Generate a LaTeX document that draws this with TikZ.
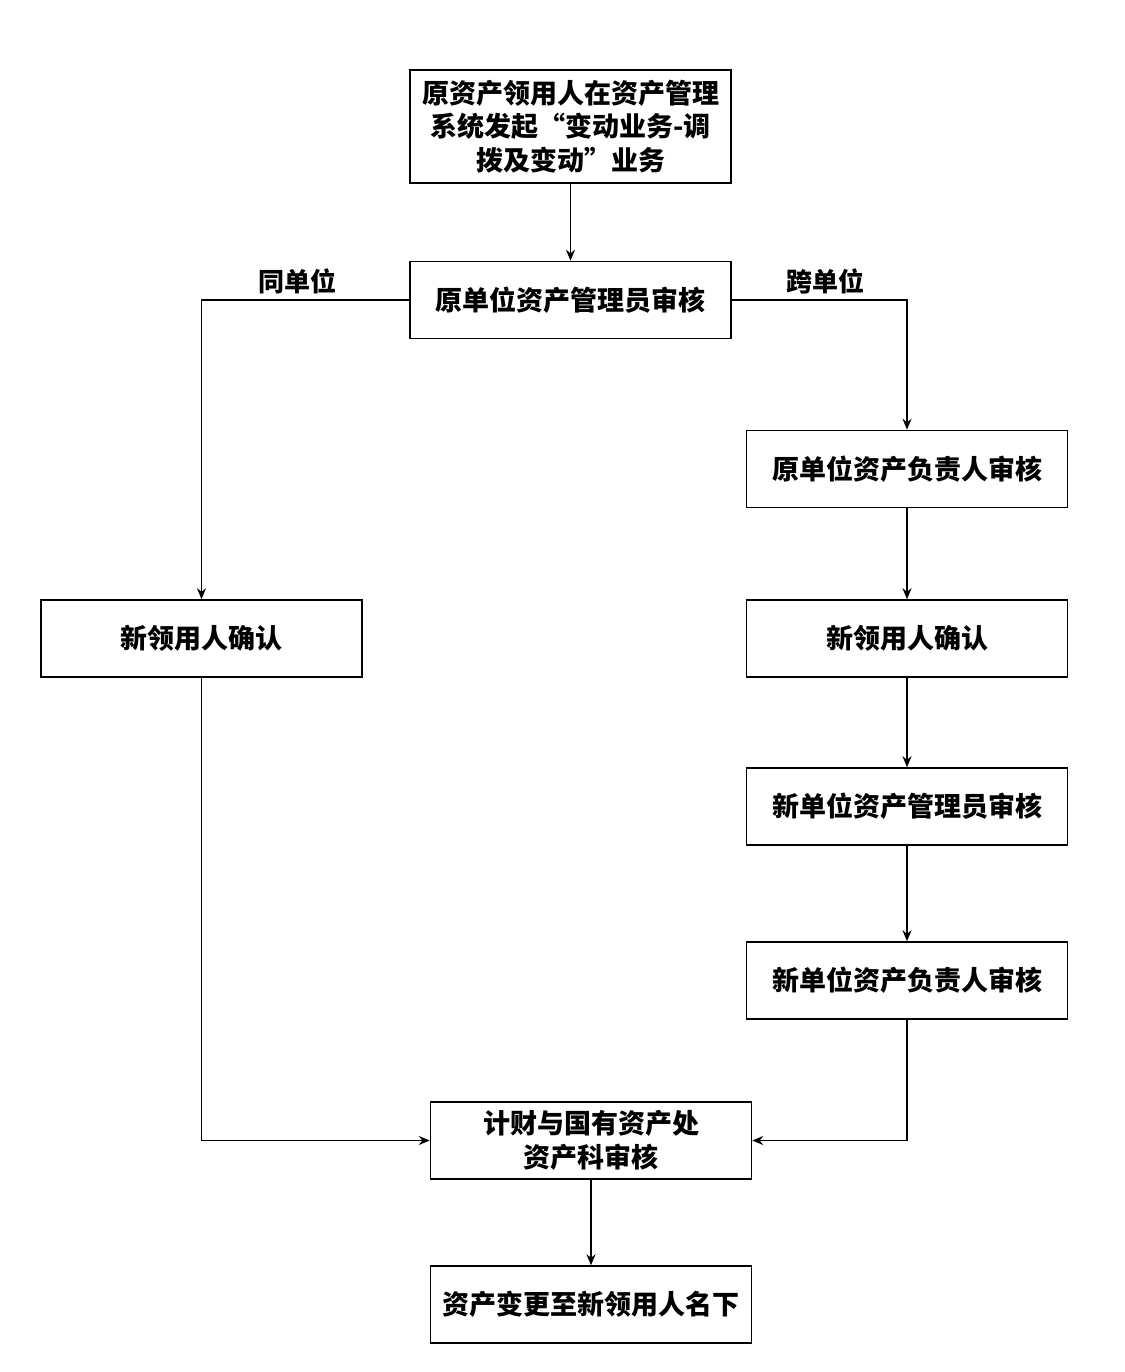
\documentclass[tikz,border=0pt]{standalone}
\usepackage{fontspec}
\setmainfont{Noto Sans CJK SC}
\usetikzlibrary{arrows.meta}
\begin{document}
\begin{tikzpicture}[x=1pt,y=-1pt,
  box/.style={draw,line width=1.5pt,rectangle,minimum width=321pt,minimum height=77pt,inner sep=0pt,align=center,font=\fontsize{27}{33.5}\selectfont\bfseries},
  lbl/.style={inner sep=0pt,font=\fontsize{26}{30}\selectfont\bfseries},
  conn/.style={line width=1.5pt,-{Stealth[length=11pt,width=9pt]}}]
\path[use as bounding box] (0,0) rectangle (1124,1372);
\node[box,minimum height=113pt] (n1) at (570.5,126.5) {原资产领用人在资产管理\\系统发起“变动业务-调\\拨及变动”业务};
\node[box] (n2) at (570.5,300) {原单位资产管理员审核};
\node[box] (n3) at (907,469) {原单位资产负责人审核};
\node[box] (n4) at (201.5,638.5) {新领用人确认};
\node[box] (n5) at (907,638.5) {新领用人确认};
\node[box] (n6) at (907,806.5) {新单位资产管理员审核};
\node[box] (n7) at (907,980.5) {新单位资产负责人审核};
\node[box] (n8) at (591,1140.5) {计财与国有资产处\\资产科审核};
\node[box] (n9) at (591,1304.5) {资产变更至新领用人名下};
\node[lbl] (l1) at (297,281) {同单位};
\node[lbl] (l2) at (825,281) {跨单位};
\draw[conn] (n1) -- (n2);
\draw[conn] (n2.west) -| (n4.north);
\draw[conn] (n2.east) -| (n3.north);
\draw[conn] (n3) -- (n5);
\draw[conn] (n5) -- (n6);
\draw[conn] (n6) -- (n7);
\draw[conn] (n4.south) |- (n8.west);
\draw[conn] (n7.south) |- (n8.east);
\draw[conn] (n8) -- (n9);
\end{tikzpicture}
\end{document}
